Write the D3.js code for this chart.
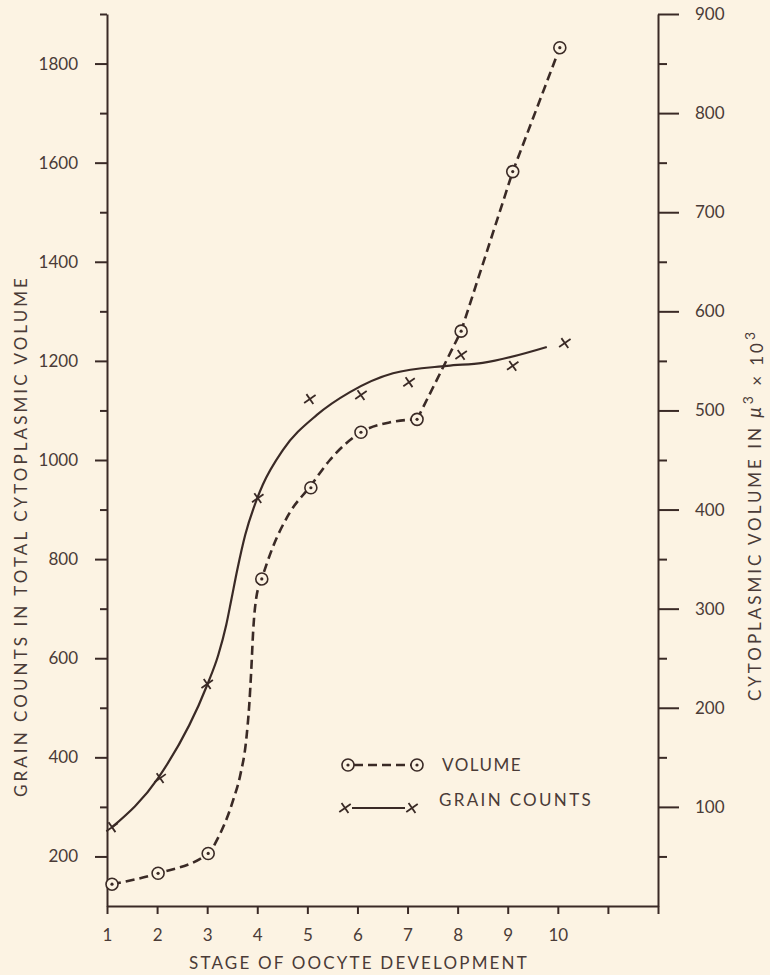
<!DOCTYPE html>
<html><head><meta charset="utf-8">
<script src="https://cdn.jsdelivr.net/npm/d3@7"></script>
<style>
html,body{margin:0;padding:0;background:#fcf3e3;}
svg{display:block;}
text{font-family:Lato,"Open Sans",sans-serif;fill:#4a3b37;}
</style></head><body>
<svg id="chart" width="770" height="975"></svg>
<script>
// ---- data ----
const grainX = [1.10, 2.06, 3.00, 4.01, 5.05, 6.07, 7.03, 8.07, 9.10, 10.14];
const grainCounts = [259, 358, 548, 923, 1123, 1131, 1157, 1212, 1190, 1236];
const volumeX = [1.10, 2.02, 3.02, 4.09, 5.07, 6.07, 7.19, 8.07, 9.10, 10.04];
const volume = [22, 33, 53, 330, 422, 478, 491, 580, 741, 866];
// hand-drawn fitted curves
const grainCurveX = [1.10, 2.02, 3.00, 3.22, 3.38, 3.48, 3.60, 3.76, 4.00, 4.11, 4.51, 5.19, 5.85, 6.71, 7.79, 8.50, 9.78];
const grainCurveY = [259, 358, 546, 606, 667, 717, 778, 849, 923, 950, 1020, 1091, 1137, 1175, 1190, 1196, 1228];
const volumeCurveX = [1.10, 2.02, 3.02, 3.22, 3.52, 3.66, 3.78, 3.84, 3.88, 3.92, 3.98, 4.09, 4.31, 4.65, 5.05, 5.45, 6.07, 6.65, 7.19];
const volumeCurveY = [22, 33, 53, 69, 107, 132, 168, 203, 238, 279, 311, 330, 362, 397, 423, 450, 478, 488, 491];
const volumeLineX = [7.19, 8.07, 9.10, 10.04];
const volumeLineY = [491, 580, 741, 866];
// ticks
const xTickValues = [1, 2, 3, 4, 5, 6, 7, 8, 9, 10, 11, 12];
const xTickLabels = ["1", "2", "3", "4", "5", "6", "7", "8", "9", "10", "", ""];
const leftTicks = [200, 400, 600, 800, 1000, 1200, 1400, 1600, 1800];
const leftMinor = [300, 500, 700, 900, 1100, 1300, 1500, 1700, 1900];
const rightTicks = [100, 200, 300, 400, 500, 600, 700, 800, 900];
const rightMinor = [50, 150, 250, 350, 450, 550, 650, 750, 850];
const xTitle = "STAGE OF OOCYTE DEVELOPMENT";
const leftTitle = "GRAIN COUNTS IN TOTAL CYTOPLASMIC VOLUME";
const legendLabels = ["VOLUME", "GRAIN COUNTS"];

// ---- drawing ----
const INK = "#3a2a26";
const svg = d3.select("#chart");
svg.append("rect").attr("width", 770).attr("height", 975).attr("fill", "#fcf3e3");

const x = d3.scaleLinear().domain([1, 12]).range([107, 658]);
const yL = d3.scaleLinear().domain([100, 1900]).range([906, 14]);
const yR = d3.scaleLinear().domain([0, 900]).range([906, 14]);

function styleAxis(g) {
  g.selectAll("path.domain").attr("stroke", INK).attr("stroke-width", 2);
  g.selectAll(".tick line").attr("stroke", INK).attr("stroke-width", 2);
  g.selectAll(".tick text").attr("font-size", 17).attr("fill", "#4a3b37")
    .attr("font-family", "Lato, 'Open Sans', sans-serif");
}

function fit(sel, target) {
  const n = sel.node();
  const L = n.getComputedTextLength();
  const c = n.textContent.length;
  sel.attr("letter-spacing", ((target - L) / c).toFixed(3));
}

// left axis
const gL = svg.append("g").attr("transform", `translate(${x(1)},0)`);
gL.call(d3.axisLeft(yL).tickValues(leftTicks).tickSize(12).tickSizeOuter(0).tickPadding(17).tickFormat(d3.format("d")));
styleAxis(gL);
const gLm = svg.append("g").attr("transform", `translate(${x(1)},0)`);
gLm.call(d3.axisLeft(yL).tickValues(leftMinor).tickSize(7).tickFormat(""));
gLm.select("path.domain").remove();
styleAxis(gLm);

// right axis
const gR = svg.append("g").attr("transform", `translate(${x(12)},0)`);
gR.call(d3.axisRight(yR).tickValues(rightTicks).tickSize(21).tickSizeOuter(0).tickPadding(16).tickFormat(d3.format("d")));
styleAxis(gR);
const gRm = svg.append("g").attr("transform", `translate(${x(12)},0)`);
gRm.call(d3.axisRight(yR).tickValues(rightMinor).tickSize(9).tickFormat(""));
gRm.select("path.domain").remove();
styleAxis(gRm);

// bottom axis
const gB = svg.append("g").attr("transform", `translate(0,${yL(100)})`);
gB.call(d3.axisBottom(x).tickValues(xTickValues).tickSize(8).tickSizeOuter(0)
  .tickFormat((d, i) => xTickLabels[i]));
styleAxis(gB);
gB.selectAll(".tick text").attr("y", 29).attr("dy", "0.35em");

// axis titles
const tx = svg.append("text").attr("x", 359).attr("y", 963).attr("dy", "0.35em")
  .attr("text-anchor", "middle").attr("font-size", 17).text(xTitle);
fit(tx, 340);

const tl = svg.append("text").attr("transform", "translate(21,536) rotate(-90)").attr("dy", "0.35em")
  .attr("text-anchor", "middle").attr("font-size", 17).text(leftTitle);
fit(tl, 522);

const tr = svg.append("text").attr("transform", "translate(755,515) rotate(-90)").attr("dy", "0.35em")
  .attr("text-anchor", "middle").attr("font-size", 17);
tr.append("tspan").text("CYTOPLASMIC VOLUME IN  ");
tr.append("tspan").attr("font-style", "italic").attr("font-size", 19).text("\u03BC");
tr.append("tspan").attr("dy", "-0.55em").attr("font-size", 14).text("3");
tr.append("tspan").attr("dy", "0.55em").text(" \u00D7 10");
tr.append("tspan").attr("dy", "-0.55em").attr("font-size", 14).text("3");
fit(tr, 375);

// curves
const gCurve = svg.append("g");
const grainPts = grainCurveX.map((d, i) => [x(d), yL(grainCurveY[i])]);
gCurve.append("path").attr("d", d3.line().curve(d3.curveMonotoneX)(grainPts))
  .attr("fill", "none").attr("stroke", INK).attr("stroke-width", 2.2);

const volPts = volumeCurveX.map((d, i) => [x(d), yR(volumeCurveY[i])]);
const volLinePts = volumeLineX.map((d, i) => [x(d), yR(volumeLineY[i])]);
gCurve.append("path").attr("d", d3.line().curve(d3.curveMonotoneX)(volPts))
  .attr("fill", "none").attr("stroke", INK).attr("stroke-width", 2.6).attr("stroke-dasharray", "9,5");
gCurve.append("path").attr("d", d3.line()(volLinePts))
  .attr("fill", "none").attr("stroke", INK).attr("stroke-width", 2.6).attr("stroke-dasharray", "9,5");

// markers
function crossMark(g) {
  g.append("path").attr("d", "M-7,0L7,0M0,-6L0,6").attr("transform", "rotate(-35)")
    .attr("stroke", INK).attr("stroke-width", 1.8).attr("fill", "none");
}
function circleMark(g) {
  g.append("circle").attr("r", 6).attr("fill", "#fcf3e3").attr("stroke", INK).attr("stroke-width", 1.6);
  g.append("circle").attr("r", 1.6).attr("fill", INK);
}
svg.append("g").selectAll("g").data(volume).join("g")
  .attr("transform", (d, i) => `translate(${x(volumeX[i])},${yR(d)})`)
  .each(function () { circleMark(d3.select(this)); });
svg.append("g").selectAll("g").data(grainCounts).join("g")
  .attr("transform", (d, i) => `translate(${x(grainX[i])},${yL(d)})`)
  .each(function () { crossMark(d3.select(this)); });

// legend
const leg = svg.append("g");
const r1 = 765, r2 = 808;
leg.append("line").attr("x1", 354).attr("x2", 411).attr("y1", r1).attr("y2", r1)
  .attr("stroke", INK).attr("stroke-width", 2.6).attr("stroke-dasharray", "9,5");
circleMark(leg.append("g").attr("transform", `translate(348,${r1})`));
circleMark(leg.append("g").attr("transform", `translate(417,${r1})`));
const lt1 = leg.append("text").attr("x", 442).attr("y", r1).attr("dy", "0.35em").attr("font-size", 17).text(legendLabels[0]);
fit(lt1, 80);
leg.append("line").attr("x1", 352).attr("x2", 405).attr("y1", r2).attr("y2", r2)
  .attr("stroke", INK).attr("stroke-width", 2.2);
crossMark(leg.append("g").attr("transform", `translate(345,${r2})`));
crossMark(leg.append("g").attr("transform", `translate(412,${r2})`));
const lt2 = leg.append("text").attr("x", 439).attr("y", 800).attr("dy", "0.35em").attr("font-size", 17).text(legendLabels[1]);
fit(lt2, 154);
</script>
</body></html>
